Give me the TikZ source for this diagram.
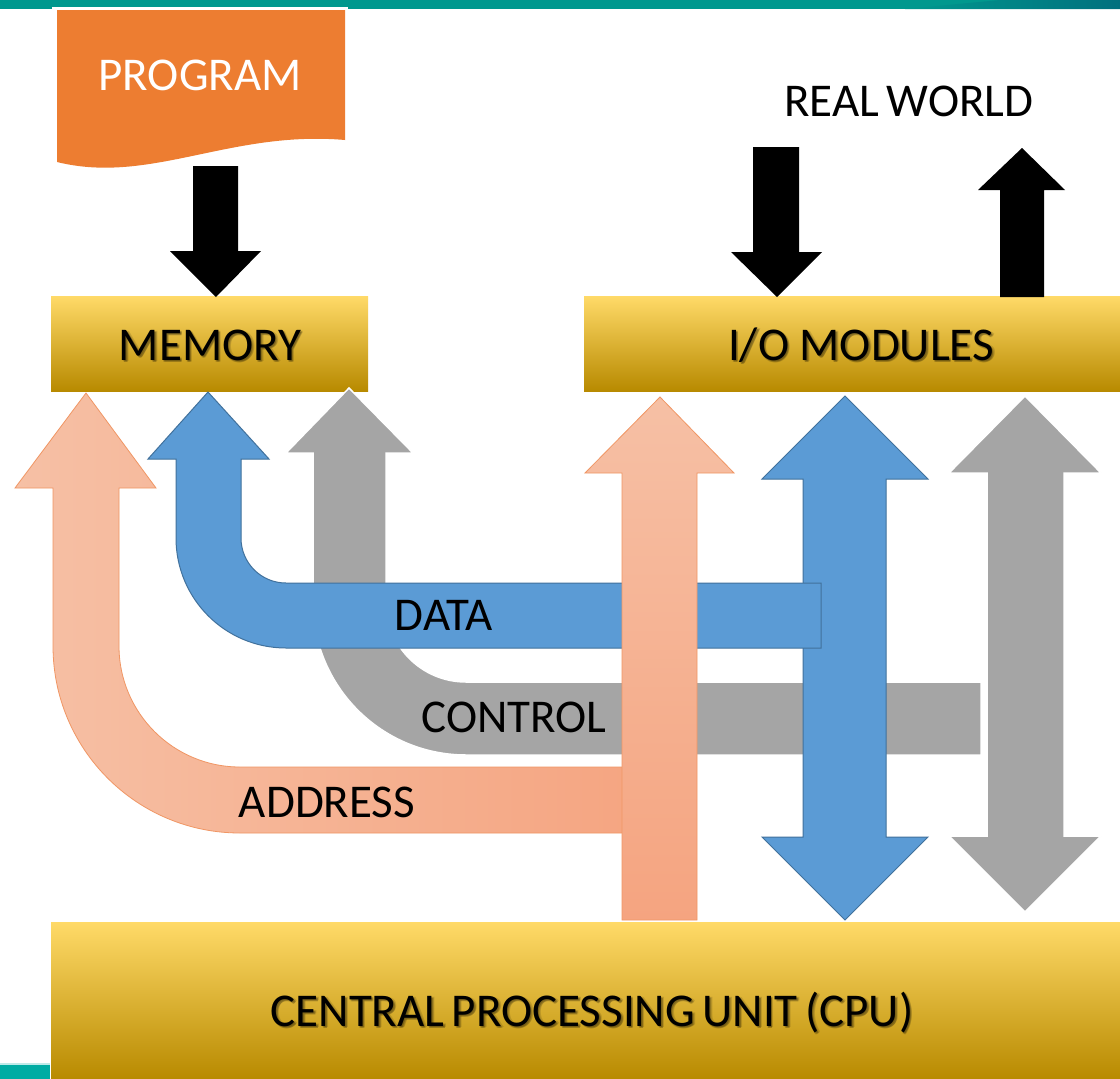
\documentclass[tikz,border=0pt]{standalone}
\usepackage{fontspec}
\setmainfont{Carlito}
\usetikzlibrary{calc}

\definecolor{tealtop}{RGB}{0,152,142}
\definecolor{tealdark}{RGB}{0,112,126}
\definecolor{tealfoot}{RGB}{0,172,163}
\definecolor{progorange}{RGB}{237,125,49}
\definecolor{goldtop}{RGB}{255,218,104}
\definecolor{goldmid}{RGB}{255,194,10}
\definecolor{goldbot}{RGB}{184,138,0}
\definecolor{salmonlight}{RGB}{246,192,165}
\definecolor{salmondark}{RGB}{245,164,128}
\definecolor{salmonedge}{RGB}{240,150,100}
\definecolor{busblue}{RGB}{91,155,213}
\definecolor{busblueedge}{RGB}{65,113,156}
\definecolor{busgray}{RGB}{165,165,165}

% label with a soft drop shadow: \softlabel{name}{x}{y}{text}
\newcommand{\softlabel}[4]{%
  \foreach \dx/\dy [count=\k] in {1/1,2/2,1.5/2.8,2.8/1.5}{%
    \node[lbl, text=black, opacity=0.13] (#1-shadow\k) at (#2+\dx,#3+\dy) {#4};}%
  \node[lbl] (#1) at (#2,#3) {#4};}

\begin{document}
\begin{tikzpicture}[x=1pt,y=-1pt,
  goldbox/.style={draw=none, top color=goldtop, middle color=goldmid, bottom color=goldbot, inner sep=0, outer sep=0},
  lbl/.style={font=\fontsize{47}{56}\selectfont, inner sep=0, anchor=base},
  blackarrow/.style={fill=black},
  addrbus/.style={draw=salmonedge, line width=0.8pt},
  databus/.style={fill=busblue, draw=busblueedge, line width=1pt},
  ctrlbus/.style={fill=busgray, draw=white, line width=1.5pt, line join=miter},
]
\useasboundingbox (0,0) rectangle (1120,1079);
\fill[white] (0,0) rectangle (1120,1079);

% slide decoration: top band and foot strip
\fill[tealtop] (0,0) rectangle (1120,9);
\shade[left color=tealtop, right color=tealdark] (905,9) -- (1000,0) -- (1120,0) -- (1120,9) -- cycle;
\fill[white] (52,7) rectangle (348,10);
\fill[tealfoot] (0,1065) rectangle (50,1079);
\fill[tealfoot!25] (0,1063) rectangle (50,1065);

% program document shape
\fill[progorange] (57,10) -- (345,10) -- (345,140)
  .. controls (230,130) and (150,185) .. (57,162) -- cycle;
\node[lbl, text=white] (prog) at (200,90) {PROGRAM};

% functional units
\node[goldbox, minimum width=317pt, minimum height=95pt] (mem) at (209.5,343.5) {};
\node[goldbox, minimum width=536pt, minimum height=95pt] (io) at (852,343.5) {};
\node[goldbox, minimum width=1069pt, minimum height=157pt] (cpu) at (585.5,1000.5) {};

\softlabel{memL}{210}{360}{MEMORY}
\softlabel{ioL}{861}{360}{I/O MODULES}
\softlabel{cpuL}{592}{1026}{\fontdimen2\font=0.16em CENTRAL PROCESSING UNIT (CPU)}

\node[lbl] (world) at (909,116) {REAL WORLD};

% block arrows from the program and the real world
\fill[blackarrow] (193,166) -- (238,166) -- (238,251) -- (261,251) -- (216,297)
  -- (170,251) -- (193,251) -- cycle;
\fill[blackarrow] (753,147) -- (799,147) -- (799,252) -- (822,252) -- (777,297)
  -- (731,252) -- (753,252) -- cycle;
\fill[blackarrow] (1022,148) -- (1065,190) -- (1044,190) -- (1044,297) -- (1000,297)
  -- (1000,190) -- (978,190) -- cycle;

% address bus to memory
\path[addrbus, left color=salmonlight, right color=salmondark]
  (86,393) -- (156,488) -- (119,488) -- (119,646)
  .. controls (119,712.8) and (173.2,767) .. (240,767)
  -- (660,767) -- (660,833) -- (240,833)
  .. controls (136.7,833) and (53,749.3) .. (53,646)
  -- (53,488) -- (15,488) -- cycle;

% control bus to memory
\path[ctrlbus]
  (349,388) -- (413,453) -- (386,453) -- (386,602)
  .. controls (386,646.2) and (421.8,682) .. (466,682)
  -- (981,682) -- (981,755) -- (466,755)
  .. controls (381.5,755) and (313,686.5) .. (313,602)
  -- (313,453) -- (286,453) -- cycle;

% control bus to I/O
\path[ctrlbus]
  (1025,396) -- (1101,473) -- (1064,473) -- (1064,836) -- (1101,836) -- (1025,912)
  -- (949,836) -- (987,836) -- (987,473) -- (949,473) -- cycle;

% data bus to I/O
\path[databus]
  (845,396) -- (928,479) -- (886,479) -- (886,837) -- (928,837) -- (845,920)
  -- (762,837) -- (803,837) -- (803,479) -- (762,479) -- cycle;

% data bus to memory
\path[databus]
  (208,392) -- (269,459) -- (241,459) -- (241,538)
  .. controls (241,562.9) and (261.1,583) .. (286,583)
  -- (821,583) -- (821,648) -- (286,648)
  .. controls (225.2,648) and (176,598.8) .. (176,538)
  -- (176,459) -- (148,459) -- cycle;

% address bus to I/O
\path[addrbus, top color=salmonlight, bottom color=salmondark]
  (660,397) -- (734,473) -- (697,473) -- (697,920) -- (622,920) -- (622,473)
  -- (585,473) -- cycle;

% bus labels
\node[lbl] (dataL) at (444,630) {DATA};
\node[lbl] (ctrlL) at (514,732) {CONTROL};
\node[lbl] (addrL) at (327,817) {ADDRESS};
\end{tikzpicture}
\end{document}
